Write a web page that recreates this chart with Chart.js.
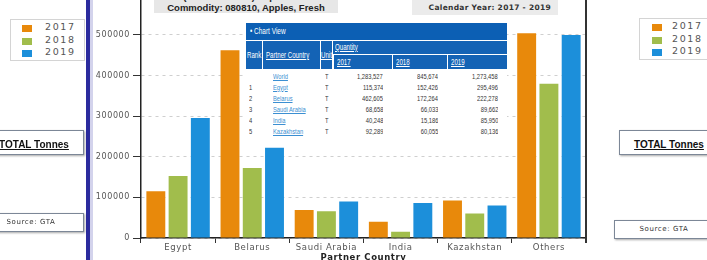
<!DOCTYPE html>
<html>
<head>
<meta charset="utf-8">
<script src="https://cdn.jsdelivr.net/npm/chart.js@4.4.1/dist/chart.umd.min.js"></script>
<style>
  body { margin: 0; width: 707px; height: 260px; overflow: hidden; background: #fff; position: relative; font-family: 'DejaVu Sans', sans-serif; }
  .abs { position: absolute; }
  #chart { position: absolute; left: 89px; top: -20px; }
  .legend { background: #fff; border: 1px solid #d4d4d4; }
  .legend .row { position: absolute; font-size: 9.5px; letter-spacing: 1.6px; color: #555; }
  .legend .sw { position: absolute; width: 10px; height: 7px; }
  .boxed { background: #fff; border: 1px solid #7c8797; box-shadow: 1px 1px 2px rgba(0,0,0,0.35); text-align: center; }
  .total { font-family: 'Liberation Sans', sans-serif; font-weight: bold; font-size: 10px; color: #111; text-decoration: underline; }
  .src { font-size: 7px; letter-spacing: 0.6px; color: #333; }
  #table { position: absolute; left: 246px; top: 23px; width: 261px; height: 117px; background: #fff; font-family: 'Liberation Sans', sans-serif; overflow: hidden; }
  #table .cell { position: absolute; white-space: nowrap; overflow: hidden; }
  #table .nar { display: inline-block; transform: scaleX(0.72); transform-origin: left center; }
  #table .nar.r { transform-origin: right center; }
  .hd { background: #1463b5; color: #fff; font-size: 8.5px; }
  .u { text-decoration: underline; }
  .link { color: #3b8fd2; text-decoration: underline; }
</style>
</head>
<body>
<canvas id="chart" width="498" height="283"></canvas>

<!-- side panels -->
<div class="abs" style="left:0;top:0;width:86px;height:260px;background:#fff;"></div>
<div class="abs" style="left:86px;top:0;width:4px;height:260px;background:#2b2b9e;"></div>
<div class="abs" style="left:90px;top:0;width:3px;height:260px;background:#d3d3ec;"></div>
<div class="abs" style="left:588px;top:0;width:119px;height:260px;background:#fff;"></div>

<div id="legendL" class="abs legend" style="left:10px;top:19px;width:73px;height:40px;"></div>
<div id="legendR" class="abs legend" style="left:639px;top:18px;width:80px;height:40px;"></div>

<div class="abs boxed" style="left:-16px;top:130px;width:98px;height:23px;line-height:23px;"><span class="total">TOTAL Tonnes</span></div>
<div class="abs boxed" style="left:619px;top:130px;width:98px;height:23px;line-height:23px;"><span class="total">TOTAL Tonnes</span></div>
<div class="abs boxed src" style="left:-22px;top:213px;width:104px;height:17px;line-height:17px;">Source: GTA</div>
<div class="abs boxed src" style="left:614px;top:220px;width:98px;height:17px;line-height:17px;">Source: GTA</div>

<!-- report headings -->
<div class="abs" style="left:154px;top:-9px;width:184px;height:22px;background:#e7e7e7;font:bold 9.5px 'Liberation Sans',sans-serif;line-height:11px;text-align:center;color:#222;">2020 (External Trade) Export Statistics<br>Commodity: 080810, Apples, Fresh</div>
<div class="abs" style="left:412px;top:0;width:146px;height:15px;background:#ebebeb;font:bold 7.5px 'DejaVu Sans',sans-serif;letter-spacing:0.3px;line-height:15px;text-align:right;color:#333;"><span style="padding-right:7px;">Calendar Year: 2017 - 2019</span></div>

<div id="table"></div>

<script>
// series data (tonnes)
const categories = ['Egypt', 'Belarus', 'Saudi Arabia', 'India', 'Kazakhstan', 'Others'];
const years = ['2017', '2018', '2019'];
const qty2017 = [115374, 462605, 68658, 40248, 92289, 504353];
const qty2018 = [152426, 172264, 66033, 15186, 60055, 379710];
const qty2019 = [295496, 222278, 89662, 85950, 80136, 499936];
const worldQty = [1283527, 845674, 1273458];
const yTickStep = 100000;
const yMax = 600000;

const colors = ['#E8890B', '#A1BD4C', '#1C8FDA'];
const series = [qty2017, qty2018, qty2019];

// side legends
function buildLegend(id, swX, txtX) {
  const el = document.getElementById(id);
  years.forEach((y, i) => {
    const sw = document.createElement('div');
    sw.className = 'sw';
    sw.style.cssText = `left:${swX}px;top:${5 + i * 12.5}px;background:${colors[i]};`;
    el.appendChild(sw);
    const t = document.createElement('div');
    t.className = 'row';
    t.textContent = y;
    t.style.cssText += `left:${txtX}px;top:${1 + i * 12.5}px;`;
    el.appendChild(t);
  });
}
buildLegend('legendL', 11, 34);
buildLegend('legendR', 12, 32);

// the "Chart View" table
(function buildTable() {
  const tb = document.getElementById('table');
  const add = (html, css, cls, right) => {
    const d = document.createElement('div');
    d.className = 'cell ' + (cls || '');
    d.style.cssText = css;
    d.innerHTML = '<span class="nar' + (right ? ' r' : '') + '">' + html + '</span>';
    tb.appendChild(d);
    return d;
  };
  const cols = [0, 17, 75, 87, 146, 201, 261];
  add('&#8226; Chart View', 'left:0;top:0;width:261px;height:17px;background:#0c5fb4;color:#fff;font-size:9px;line-height:17px;padding-left:4px;box-sizing:border-box;');
  add('Rank', `left:0;top:18px;width:16px;height:28px;line-height:28px;padding-left:1px;box-sizing:border-box;`, 'hd');
  add('<span class="u">Partner Country</span>', `left:17px;top:18px;width:57px;height:28px;line-height:28px;padding-left:3px;box-sizing:border-box;`, 'hd');
  add('<span class="u">Unit</span>', `left:75px;top:18px;width:11px;height:28px;line-height:28px;`, 'hd');
  add('<span class="u">Quantity</span>', `left:87px;top:18px;width:174px;height:13px;line-height:13px;padding-left:2px;box-sizing:border-box;`, 'hd');
  years.forEach((y, i) => {
    add('<span class="u">' + y + '</span>', `left:${cols[3 + i] + 1}px;top:32px;width:${cols[4 + i] - cols[3 + i] - 1}px;height:14px;line-height:14px;padding-left:3px;box-sizing:border-box;`, 'hd');
  });
  const rows = [['', 'World', worldQty]];
  categories.slice(0, 5).forEach((c, i) => rows.push([String(i + 1), c, series.map(s => s[i])]));
  rows.forEach((r, i) => {
    const top = 48 + i * 11;
    const base = `top:${top}px;height:11px;line-height:11px;font-size:8px;color:#333;`;
    add(r[0], base + 'left:3px;');
    add('<span class="link">' + r[1] + '</span>', base + 'left:27px;');
    add('T', base + 'left:79px;');
    r[2].forEach((v, k) => {
      add(v.toLocaleString('en-US'), base + `left:${cols[3 + k]}px;width:${cols[4 + k] - cols[3 + k] - 9}px;text-align:right;`, '', true);
    });
  });
})();

// letter spacing for canvas text + right frame line of the plot
const framePlugin = {
  id: 'frame',
  beforeLayout(chart) { chart.ctx.letterSpacing = '0.6px'; },
  beforeDraw(chart) { chart.ctx.letterSpacing = '0.6px'; },
  afterDraw(chart) {
    const { ctx, chartArea } = chart;
    ctx.save();
    ctx.strokeStyle = '#333';
    ctx.lineWidth = 2;
    ctx.beginPath();
    ctx.moveTo(chartArea.right, 0);
    ctx.lineTo(chartArea.right, chartArea.bottom + 5);
    ctx.stroke();
    ctx.restore();
  }
};

new Chart(document.getElementById('chart').getContext('2d'), {
  type: 'bar',
  data: {
    labels: categories,
    datasets: years.map((y, i) => ({
      label: y,
      data: series[i],
      backgroundColor: colors[i],
      categoryPercentage: 0.9,
      barPercentage: 0.85
    }))
  },
  options: {
    responsive: false,
    animation: false,
    devicePixelRatio: 1,
    layout: { padding: { top: 14.4, right: 1, bottom: 0, left: 0 } },
    plugins: { legend: { display: false }, tooltip: { enabled: false } },
    scales: {
      x: {
        afterFit(s) { s.height = 25; },
        grid: { drawOnChartArea: false, tickLength: 5, tickColor: '#333', offset: true },
        border: { color: '#222', width: 1.5 },
        ticks: { padding: 0, color: '#555', font: { family: 'DejaVu Sans', size: 8.5 }, maxRotation: 0 },
        title: { display: true, text: 'Partner Country', color: '#222', font: { family: 'DejaVu Sans', size: 8.5, weight: 'bold' }, padding: 0 }
      },
      y: {
        min: 0,
        max: yMax,
        afterFit(s) { s.width = 52; },
        grid: { color: '#cfcfcf', tickColor: '#333', tickLength: 8, tickBorderDash: [] },
        border: { color: '#222', width: 1.5, dash: [3, 4] },
        ticks: { stepSize: yTickStep, padding: 3, color: '#555', font: { family: 'DejaVu Sans', size: 8 }, callback: v => String(v) }
      }
    }
  },
  plugins: [framePlugin]
});
</script>
</body>
</html>
